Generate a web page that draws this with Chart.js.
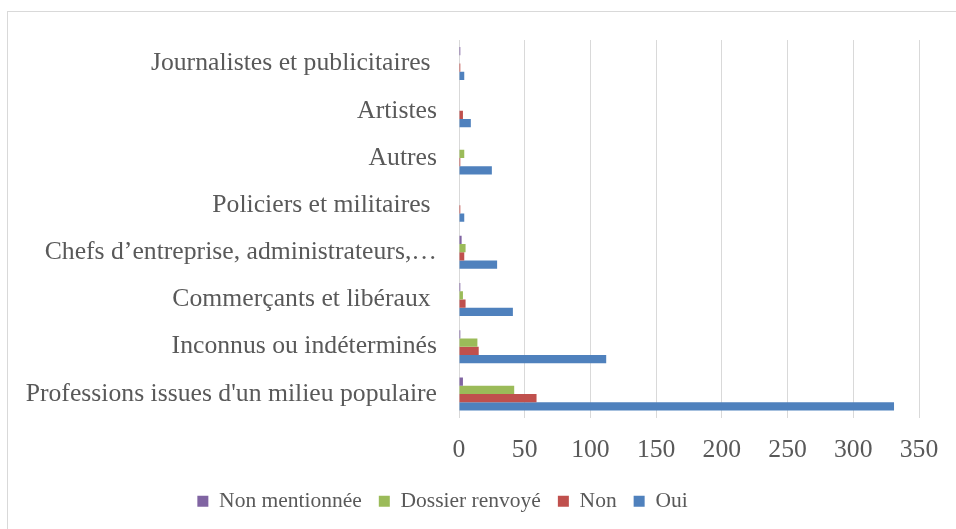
<!DOCTYPE html>
<html lang="fr">
<head>
<meta charset="utf-8">
<title>Professions</title>
<script src="https://cdn.jsdelivr.net/npm/chart.js@4.4.1/dist/chart.umd.min.js"></script>
<style>
  html, body { margin: 0; padding: 0; background: #fff; }
  #wrap { width: 956px; height: 529px; position: relative; }
</style>
</head>
<body>
<div id="wrap"><canvas id="ch"></canvas></div>
<script>
  // Catégories (de haut en bas)
  const categories = [
    'Journalistes et publicitaires ',
    'Artistes',
    'Autres',
    'Policiers et militaires ',
    'Chefs d’entreprise, administrateurs,…',
    'Commerçants et libéraux ',
    'Inconnus ou indéterminés',
    "Professions issues d'un milieu populaire"
  ];

  // Séries
  const nonMentionnee = [1, 0, 0, 0, 2, 1, 1, 3];
  const dossierRenvoye = [0, 0, 4, 0, 5, 3, 14, 42];
  const non = [1, 3, 1, 1, 4, 5, 15, 59];
  const oui = [4, 9, 25, 4, 29, 41, 112, 331];

  const xMax = 350;
  const xStep = 50;

  const textColor = '#595959';
  const gridColor = '#d9d9d9';
  const fontFamily = "'Liberation Serif', serif";

  Chart.defaults.font.family = fontFamily;
  Chart.defaults.font.size = 21;
  Chart.defaults.color = textColor;

  // fond blanc + cadre du graphique
  const frame = {
    id: 'frame',
    beforeDraw(chart) {
      const c = chart.ctx;
      c.save();
      c.fillStyle = '#fff';
      c.fillRect(0, 0, chart.width, chart.height);
      c.strokeStyle = gridColor;
      c.lineWidth = 1;
      c.strokeRect(7.5, 11.5, 1000, 600);
      c.restore();
    }
  };

  new Chart(document.getElementById('ch'), {
    type: 'bar',
    data: {
      labels: categories,
      datasets: [
        { label: 'Non mentionnée', data: nonMentionnee, backgroundColor: '#8064A2' },
        { label: 'Dossier renvoyé', data: dossierRenvoye, backgroundColor: '#9BBB59' },
        { label: 'Non', data: non, backgroundColor: '#C0504D' },
        { label: 'Oui', data: oui, backgroundColor: '#4F81BD' }
      ]
    },
    options: {
      indexAxis: 'y',
      responsive: true, maintainAspectRatio: false,
      animation: false,
      datasets: { bar: { categoryPercentage: 0.7, barPercentage: 1.0 } },
      layout: { padding: { left: -34, right: 37, top: 40, bottom: 7 } },
      plugins: {
        tooltip: { enabled: false },
        legend: {
          position: 'bottom',
          labels: {
            boxWidth: 11, boxHeight: 11,
            padding: 17,
            color: textColor,
            font: { family: fontFamily, size: 21.5 }
          }
        }
      },
      scales: {
        x: {
          min: 0, max: xMax,
          ticks: { stepSize: xStep, color: textColor, padding: 17, font: { family: fontFamily, size: 25.7 } },
          grid: { color: gridColor, drawTicks: false },
          border: { display: false },
          afterFit: s => { s.height = 56; }
        },
        y: {
          ticks: { autoSkip: false, color: textColor, padding: 22, font: { family: fontFamily, size: 25.7 } },
          grid: { display: false, drawTicks: false },
          border: { display: true, color: gridColor },
          afterFit: s => { s.width = 493; }
        }
      }
    },
    plugins: [frame]
  });
</script>
</body>
</html>
